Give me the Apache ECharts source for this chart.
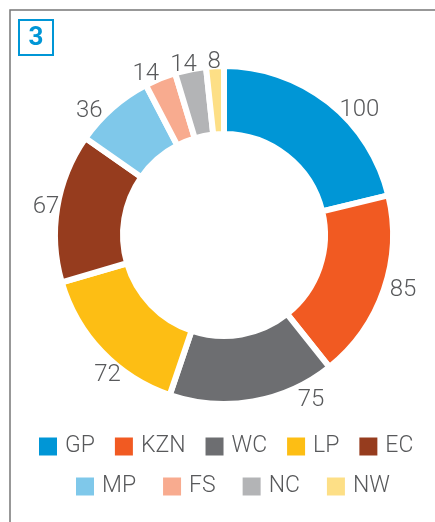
<!DOCTYPE html>
<html>
<head>
<meta charset="utf-8">
<script src="https://cdn.jsdelivr.net/npm/echarts@6/dist/echarts.min.js"></script>
<style>
  html, body { margin: 0; padding: 0; background: #fff; }
  #chart { width: 435px; height: 522px; }
</style>
</head>
<body>
<div id="chart"></div>
<script>
// provinces and counts
var provinces = ["GP", "KZN", "WC", "LP", "EC", "MP", "FS", "NC", "NW"];
var counts = [100, 85, 75, 72, 67, 36, 14, 14, 8];
var colors = ["#0096d6", "#f15a22", "#6d6e71", "#fdbe14", "#963c1e", "#7fc8ea", "#f8ab8f", "#b3b4b6", "#fddf86"];
var row1 = ["GP", "KZN", "WC", "LP", "EC"];
var row2 = ["MP", "FS", "NC", "NW"];

// small hand nudges so the value labels sit where the original put them
var labelNudge = [[4, 10], [-2, -1], [39, -4], [26, 21], [10, 0], [-3, 5], [5, -2], [12, -1], [11, -1]];

var textColor = "#58595b";
var font = "Roboto";

var chart = echarts.init(document.getElementById("chart"));

var pieData = provinces.map(function (p, i) {
  return { name: p, value: counts[i], label: { offset: labelNudge[i] } };
});

function legendRow(data, left, top, gap) {
  return {
    data: data,
    left: left,
    top: top,
    padding: 0,
    icon: "rect",
    itemWidth: 20,
    itemHeight: 20,
    itemGap: gap,
    textStyle: { color: textColor, fontSize: 23, fontFamily: font, fontWeight: 300, padding: [0, 0, 0, 2] }
  };
}

chart.setOption({
  color: colors,
  animation: false,
  legend: [legendRow(row1, 37, 435, 18), legendRow(row2, 74, 475, 25)],
  graphic: [
    // frame (only top and left edges show)
    { type: "rect", shape: { x: 10, y: 10, width: 600, height: 700 }, style: { fill: null, stroke: "#777", lineWidth: 1.5 } },
    // number badge
    { type: "rect", shape: { x: 19, y: 20, width: 34, height: 35 }, style: { fill: null, stroke: "#0096d6", lineWidth: 2 } },
    { type: "text", x: 36, y: 38, style: { text: "3", fill: "#0096d6", font: "bold 26px Roboto", align: "center", verticalAlign: "middle" } }
  ],
  series: [
    {
      type: "pie",
      center: [224, 235],
      radius: [101, 169],
      startAngle: 90,
      avoidLabelOverlap: false,
      itemStyle: { borderColor: "#fff", borderWidth: 6 },
      label: {
        show: true,
        position: "outside",
        formatter: "{c}",
        color: textColor,
        fontSize: 24,
        fontFamily: font,
        fontWeight: 300
      },
      labelLine: { show: false, length: 3, length2: 0 },
      data: pieData
    }
  ]
});
</script>
</body>
</html>
